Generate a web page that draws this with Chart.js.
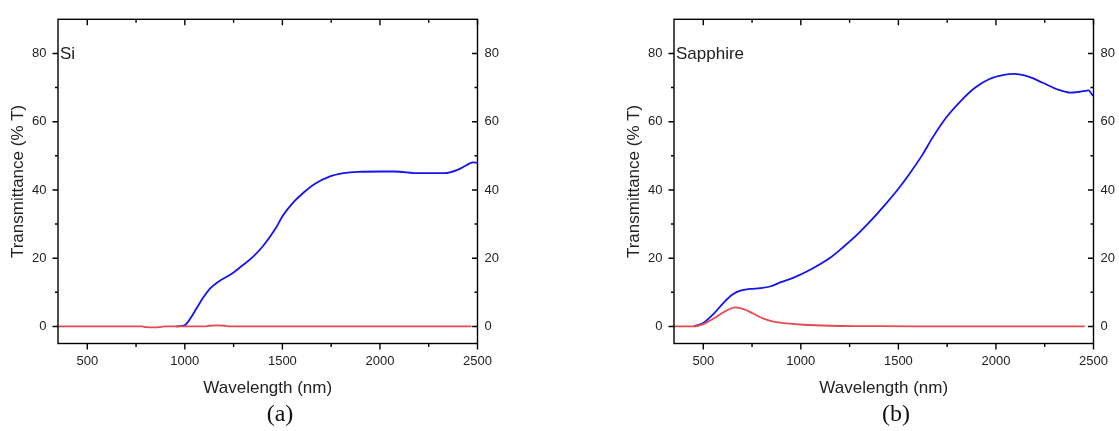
<!DOCTYPE html>
<html lang="en">
<head>
<meta charset="UTF-8">
<title>Transmittance: Si and Sapphire</title>
<script src="https://cdn.jsdelivr.net/npm/chart.js"></script>
<style>
  html, body { margin: 0; padding: 0; background: #fff; }
  body { width: 1119px; height: 431px; position: relative; overflow: hidden; }
  .panel { position: absolute; top: 0; width: 560px; height: 431px; }
</style>
</head>
<body>
<div class="panel" style="left:0px"><canvas id="chartSi"></canvas></div>
<div class="panel" style="left:616px"><canvas id="chartSapphire"></canvas></div>
<script>
// tick positions (labels only on every other one)
const xTicks = [500, 750, 1000, 1250, 1500, 1750, 2000, 2250, 2500];
const yTicks = [0, 10, 20, 30, 40, 50, 60, 70, 80];

// (a) Si
const siBlueWave = [955, 975, 1003, 1029, 1063, 1097, 1131, 1174, 1234, 1285, 1353, 1404, 1464, 1502, 1557, 1612, 1667, 1741, 1814, 1888, 2007, 2072, 2200, 2329, 2402, 2439, 2476, 2500];
const siBlueT    = [0, 0.1, 0.5, 2.4, 5.6, 8.7, 11.2, 13.2, 15.2, 17.4, 20.6, 23.8, 28.6, 32.4, 36.4, 39.4, 41.8, 43.9, 44.9, 45.3, 45.4, 45.4, 44.9, 44.9, 46.0, 47.1, 48.1, 47.9];
const siRedWave  = [350, 780, 800, 850, 880, 900, 1100, 1125, 1165, 1205, 1230, 2470];
const siRedT     = [0, 0, -0.2, -0.3, -0.1, 0, 0, 0.2, 0.3, 0.2, 0, 0];

// (b) Sapphire
const sapBlueWave = [451, 502, 553, 605, 648, 690, 741, 792, 843, 894, 963, 1048, 1150, 1222, 1294, 1367, 1440, 1494, 1549, 1622, 1676, 1749, 1822, 1894, 1967, 2040, 2094, 2167, 2240, 2313, 2385, 2422, 2458, 2476, 2490, 2500];
const sapBlueT    = [0, 1.1, 3.7, 7.0, 9.3, 10.5, 11.0, 11.2, 11.7, 12.9, 14.3, 16.6, 20.1, 23.5, 27.2, 31.5, 36.2, 39.9, 44.1, 50.2, 55.4, 61.5, 66.2, 70.0, 72.5, 73.7, 74.0, 73.2, 71.4, 69.5, 68.5, 68.7, 69.0, 69.2, 68.1, 67.5];
const sapRedWave  = [350, 451, 502, 553, 605, 664, 707, 758, 809, 860, 929, 1014, 1150, 1334, 1588, 2455];
const sapRedT     = [0, 0, 0.75, 2.3, 4.2, 5.6, 5.1, 3.7, 2.3, 1.4, 0.9, 0.5, 0.2, 0.1, 0, 0];

const blue = '#1414f0';
const red = '#e64a4f';
const textColor = '#222';
const sansFont = '"Liberation Sans", Arial, sans-serif';

function pts(xs, ys) {
  return xs.map((x, i) => ({ x: x, y: ys[i] }));
}

// frame, tick marks (out on left/bottom, in on top/right) and the panel label
const frameTicks = {
  id: 'frameTicks',
  afterDraw(chart, args, opts) {
    const { ctx, chartArea: a, scales } = chart;
    ctx.save();
    ctx.strokeStyle = '#000';
    ctx.lineWidth = 1.4;
    ctx.strokeRect(a.left, a.top, a.right - a.left, a.bottom - a.top);
    ctx.beginPath();
    xTicks.forEach(v => {
      const px = scales.x.getPixelForValue(v);
      const len = v % 500 === 0 ? 6 : 3.5;
      ctx.moveTo(px, a.bottom); ctx.lineTo(px, a.bottom + len);
      ctx.moveTo(px, a.top); ctx.lineTo(px, a.top + len);
    });
    yTicks.forEach(v => {
      const py = scales.y.getPixelForValue(v);
      const len = v % 20 === 0 ? 5.5 : 3;
      ctx.moveTo(a.left, py); ctx.lineTo(a.left - len, py);
      ctx.moveTo(a.right, py); ctx.lineTo(a.right - len, py);
    });
    ctx.stroke();
    ctx.fillStyle = textColor;
    ctx.font = '17px ' + sansFont;
    ctx.textBaseline = 'middle';
    ctx.textAlign = 'left';
    ctx.fillText(opts.label, a.left + 2, scales.y.getPixelForValue(80) + 1);
    ctx.restore();
  }
};

function yScale(position, width, padding) {
  return {
    type: 'linear',
    position: position,
    min: -5,
    max: 90,
    afterBuildTicks: s => { s.ticks = yTicks.map(v => ({ value: v })); },
    afterFit: s => { s.width = width; },
    grid: { display: false, drawTicks: false },
    border: { display: false },
    ticks: {
      autoSkip: false,
      padding: padding,
      color: textColor,
      font: { family: sansFont, size: 13 },
      callback: v => (v % 20 === 0 ? v : '')
    }
  };
}

function makeChart(id, label, caption, blueData, redData) {
  return new Chart(document.getElementById(id), {
    type: 'line',
    data: {
      datasets: [
        { label: 'R', data: redData, borderColor: red, borderWidth: 1.8, pointRadius: 0, tension: 0.4, cubicInterpolationMode: 'monotone' },
        { label: 'T', data: blueData, borderColor: blue, borderWidth: 1.8, pointRadius: 0, tension: 0.4, cubicInterpolationMode: 'monotone' }
      ]
    },
    options: {
      responsive: true,
      maintainAspectRatio: false,
      animation: false,
      layout: { padding: { top: 7, left: 0, right: 0, bottom: 0 } },
      scales: {
        x: {
          type: 'linear',
          min: 350,
          max: 2500,
          afterBuildTicks: s => { s.ticks = xTicks.map(v => ({ value: v })); },
          afterFit: s => { s.height = 431 - 7 - 30.8 - 336.5; },
          grid: { display: false, drawTicks: false },
          border: { display: false },
          ticks: {
            autoSkip: false,
            maxRotation: 0,
            padding: 10.5,
            color: textColor,
            font: { family: sansFont, size: 13 },
            callback: v => (v % 500 === 0 ? v : '')
          },
          title: {
            display: true,
            text: 'Wavelength (nm)',
            color: textColor,
            font: { family: sansFont, size: 17 },
            padding: { top: 0, bottom: 2 }
          }
        },
        y: Object.assign(yScale('left', 58, 11.5), {
          title: {
            display: true,
            text: 'Transmittance (% T)',
            color: textColor,
            font: { family: sansFont, size: 17 },
            padding: { top: 8, bottom: 0 }
          }
        }),
        y2: yScale('right', 82.5, 7)
      },
      plugins: {
        legend: { display: false },
        tooltip: { enabled: false },
        title: {
          display: true,
          position: 'bottom',
          text: caption,
          color: '#111',
          font: { family: '"Liberation Serif", "Times New Roman", serif', size: 24, weight: 'normal' },
          padding: { top: 0, bottom: 2 }
        },
        frameTicks: { label: label }
      }
    },
    plugins: [frameTicks]
  });
}

makeChart('chartSi', 'Si', '(a)', pts(siBlueWave, siBlueT), pts(siRedWave, siRedT));
makeChart('chartSapphire', 'Sapphire', '(b)', pts(sapBlueWave, sapBlueT), pts(sapRedWave, sapRedT));
</script>
</body>
</html>
